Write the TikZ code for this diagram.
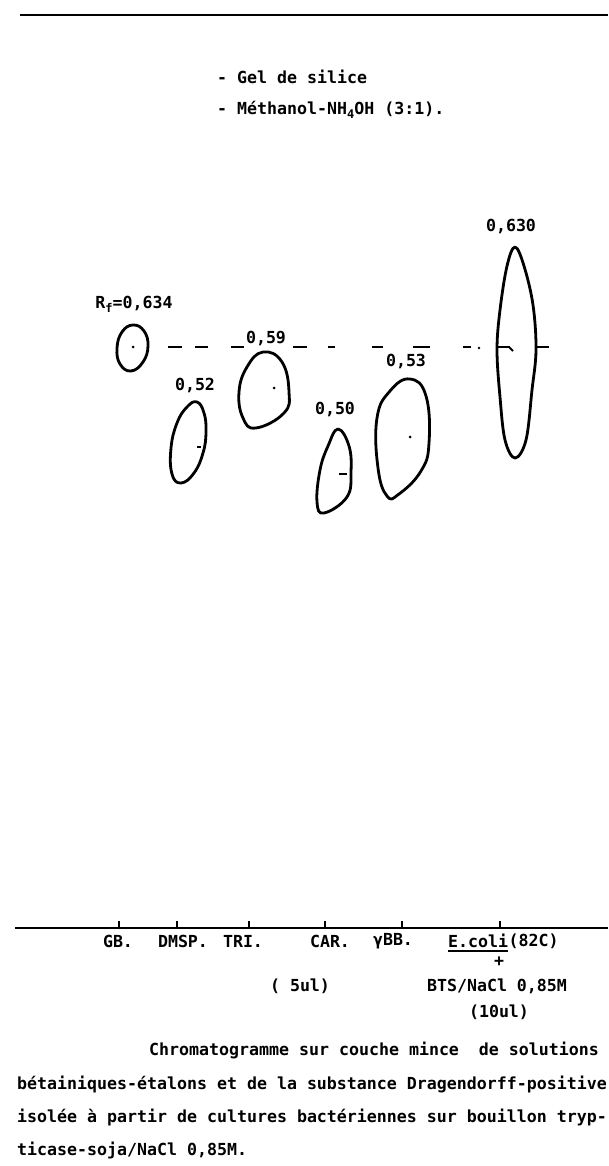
\documentclass[tikz,border=0pt]{standalone}
\usepackage{fontspec}
\setmonofont{DejaVu Sans Mono}
\newcommand{\lowidx}[1]{\raisebox{-0.45ex}{\fontsize{12}{12}\selectfont #1}}
\begin{document}
\begin{tikzpicture}[x=1pt,y=-1pt,
  lbl/.style={font=\ttfamily\bfseries\fontsize{16.6}{18}\selectfont, inner sep=0pt},
  spot/.style={line width=2.8pt, line join=round},
  rulel/.style={line width=2.4pt},
  lvl/.style={line width=2.2pt},
  tick/.style={line width=2.4pt}]
\useasboundingbox (0,0) rectangle (608,1166);

% plate edges
\draw[rulel] (20,15) -- (608,15);
\draw[rulel] (15,928) -- (608,928);
\foreach \t in {119,177,249,325,402,500}
  \draw[tick] (\t,928) -- (\t,921);

% conditions
\node[lbl, anchor=west] (gel) at (217,77) {- Gel de silice};
\node[lbl, anchor=west] (solv) at (217,110) {- Méthanol-NH\lowidx{4}OH (3:1).};

% front of the reference spot (Rf level)
\foreach \a/\b in {168/182,195/208,231/244,293/307,328/335,372/383,413/430,463/471,498/510,537/549}
  \draw[lvl] (\a,347) -- (\b,347);
\fill (479,348) circle (1.4);
\draw[line width=1.8pt] (509,347) -- (513,351);

% spots
\draw[spot] plot[smooth cycle, tension=0.75] coordinates
  {(133,325) (144,331) (148,346) (143,362) (131,371) (120,364) (117,348) (122,332)};
\fill (133,347) circle (1.5);

\draw[spot] plot[smooth cycle, tension=0.75] coordinates
  {(197,402) (204,413) (206,432) (203,453) (194,473) (181,483) (172,474) (171,448) (177,423) (187,407)};
\draw[line width=1.8pt] (197,447) -- (201,447);

\draw[spot] plot[smooth cycle, tension=0.75] coordinates
  {(263,352) (282,362) (289,392) (284,413) (256,428) (243,418) (239,392) (247,367)};
\fill (274,388) circle (1.5);

\draw[spot] plot[smooth cycle, tension=0.7] coordinates
  {(338,429) (349,446) (351,472) (347,497) (324,513) (317,502) (320,470) (328,446)};
\draw[line width=1.8pt] (339,474) -- (347,474);

\draw[spot] plot[smooth cycle, tension=0.75] coordinates
  {(410,379) (426,396) (429,443) (421,471) (399,494) (387,496) (378,468) (377,418) (390,391)};
\fill (410,437) circle (1.5);

\draw[spot] plot[smooth cycle, tension=0.6] coordinates
  {(515,247) (524,266) (533,305) (536,350) (532,390) (526,440) (515,458) (505,440) (500,397) (497,350) (500,310) (507,266)};

% Rf values
\node[lbl] (rf0) at (134,304) {R\lowidx{f}=0,634};
\node[lbl] (rf1) at (195,386) {0,52};
\node[lbl] (rf2) at (266,339) {0,59};
\node[lbl] (rf3) at (335,410) {0,50};
\node[lbl] (rf4) at (406,362) {0,53};
\node[lbl] (rf5) at (511,227) {0,630};

% lanes
\node[lbl] (gb) at (118,941) {GB.};
\node[lbl] (dmsp) at (183,941) {DMSP.};
\node[lbl] (tri) at (243,941) {TRI.};
\node[lbl] (car) at (330,941) {CAR.};
\node[lbl] (gbb) at (393,941) {γBB.};
\node[lbl, anchor=west] (ecoli) at (448,941) {E.coli};
\node[lbl, anchor=west] (ecolib) at (ecoli.east) {(82C)};
\draw[line width=2pt] ([yshift=-3pt]ecoli.south west) -- ([yshift=-3pt]ecoli.south east);
\node[lbl] (plus) at (499,962) {+};
\node[lbl] (vol1) at (300,986) {( 5ul)};
\node[lbl] (bts) at (497,986) {BTS/NaCl 0,85M};
\node[lbl] (vol2) at (499,1012) {(10ul)};

% caption
\node[lbl, anchor=west] (c1) at (149,1050) {Chromatogramme sur couche mince\ \ de solutions};
\node[lbl, anchor=west] (c2) at (17,1084) {bétainiques-étalons et de la substance Dragendorff-positive};
\node[lbl, anchor=west] (c3) at (17,1117) {isolée à partir de cultures bactériennes sur bouillon tryp-};
\node[lbl, anchor=west] (c4) at (17,1150) {ticase-soja/NaCl 0,85M.};
\end{tikzpicture}
\end{document}
